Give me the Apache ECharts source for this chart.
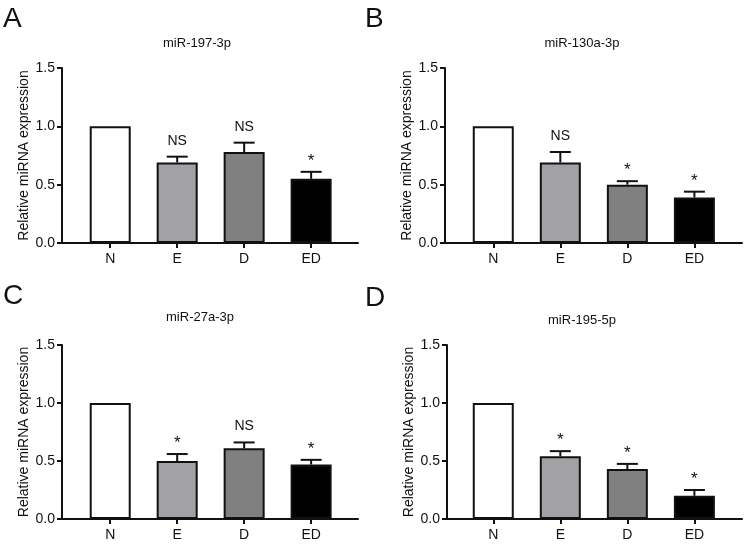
<!DOCTYPE html>
<html><head><meta charset="utf-8">
<script src="https://cdn.jsdelivr.net/npm/echarts@6/dist/echarts.min.js"></script>
<style>html,body{margin:0;padding:0;background:#fff}#c{width:750px;height:547px}</style>
</head><body><div id="c"></div>
<script>
const categories = ['N', 'E', 'D', 'ED'];
const panelLetters = ['A', 'B', 'C', 'D'];
const panelTitles = ['miR-197-3p', 'miR-130a-3p', 'miR-27a-3p', 'miR-195-5p'];
const yTicks = [0, 0.5, 1.0, 1.5];

const meanA = [1.0, 0.69, 0.78, 0.55];
const errA  = [0, 0.05, 0.08, 0.06];
const sigA  = ['', 'NS', 'NS', '*'];

const meanB = [1.0, 0.69, 0.50, 0.39];
const errB  = [0, 0.09, 0.03, 0.05];
const sigB  = ['', 'NS', '*', '*'];

const meanC = [1.0, 0.50, 0.61, 0.47];
const errC  = [0, 0.06, 0.05, 0.04];
const sigC  = ['', '*', 'NS', '*'];

const meanD = [1.0, 0.54, 0.43, 0.20];
const errD  = [0, 0.045, 0.045, 0.05];
const sigD  = ['', '*', '*', '*'];

const panels = [
  {mean: meanA, err: errA, sig: sigA},
  {mean: meanB, err: errB, sig: sigB},
  {mean: meanC, err: errC, sig: sigC},
  {mean: meanD, err: errD, sig: sigD}
];

const barColors = ['#ffffff', '#a2a2a6', '#808080', '#000000'];
const FONT = 'Liberation Sans, Arial, sans-serif';
const INK = '#111111';

const layout = [
  {left: 62,  top: 68,  width: 296, height: 175, min: -0.72, max: 3.70, tx: 197, ty: 43, lx: 3,   ly: 5},
  {left: 445, top: 68,  width: 297, height: 175, min: -0.72, max: 3.71, tx: 582, ty: 43, lx: 365, ly: 5},
  {left: 62,  top: 345, width: 296, height: 174, min: -0.72, max: 3.70, tx: 200, ty: 317, lx: 3,  ly: 282},
  {left: 447, top: 345, width: 295, height: 174, min: -0.69, max: 3.71, tx: 582, ty: 320, lx: 365, ly: 284}
];

const grid = [], xAxis = [], yAxis = [], series = [], graphics = [];
layout.forEach((L, i) => {
  const P = panels[i];
  grid.push({left: L.left, top: L.top, width: L.width, height: L.height});
  xAxis.push({
    type: 'value', gridIndex: i, min: L.min, max: L.max,
    splitLine: {show: false},
    axisLine: {show: true, onZero: false, lineStyle: {color: INK, width: 2}},
    axisTick: {show: true, length: 5, lineStyle: {color: INK, width: 2}, customValues: [0, 1, 2, 3]},
    axisLabel: {customValues: [0, 1, 2, 3], formatter: v => categories[Math.round(v)], color: INK,
      fontSize: 14, fontFamily: FONT, margin: 9}
  });
  yAxis.push({
    type: 'value', gridIndex: i, min: 0, max: 1.5, interval: 0.5,
    name: 'Relative miRNA expression', nameLocation: 'middle', nameGap: 28, nameRotate: 90,
    nameTextStyle: {color: INK, fontSize: 14, fontFamily: FONT},
    splitLine: {show: false},
    axisLine: {show: true, onZero: false, lineStyle: {color: INK, width: 2}},
    axisTick: {show: true, length: 5, lineStyle: {color: INK, width: 2}, customValues: yTicks},
    axisLabel: {customValues: yTicks, formatter: v => v.toFixed(1), color: INK, fontSize: 14, fontFamily: FONT, margin: 7}
  });
  series.push({
    type: 'bar', xAxisIndex: i, yAxisIndex: i, barWidth: 41,
    data: P.mean.map((m, k) => ({value: [k, m], itemStyle: {color: barColors[k], borderColor: INK, borderWidth: 2}})),
    animation: false, z: 2
  });
  series.push({
    type: 'custom', xAxisIndex: i, yAxisIndex: i, z: 3, animation: false,
    data: P.mean.map((m, k) => [k, m, P.err[k]]),
    renderItem: function (params, api) {
      const k = api.value(0), m = api.value(1), e = api.value(2);
      const s = P.sig[params.dataIndex];
      const base = api.coord([k, m]);
      const top = api.coord([k, m + e]);
      const children = [];
      if (e > 0) {
        children.push({type: 'line', shape: {x1: base[0], y1: base[1], x2: top[0], y2: top[1]},
          style: {stroke: INK, lineWidth: 2}});
        children.push({type: 'line', shape: {x1: top[0] - 10.5, y1: top[1], x2: top[0] + 10.5, y2: top[1]},
          style: {stroke: INK, lineWidth: 2}});
      }
      if (s) {
        const star = s === '*';
        children.push({type: 'text', style: {text: s, x: top[0], y: top[1] - (star ? 2 : 9),
          align: 'center', verticalAlign: 'bottom', font: (star ? '17px ' : '14px ') + FONT, fill: INK}});
      }
      return {type: 'group', children: children};
    }
  });
  graphics.push({type: 'text', left: L.lx, top: L.ly, style: {text: panelLetters[i], font: '28px ' + FONT, fill: INK}});
  graphics.push({type: 'text', x: L.tx, y: L.ty, style: {text: panelTitles[i], font: '13px ' + FONT, fill: INK,
    align: 'center', verticalAlign: 'middle'}});
});

const chart = echarts.init(document.getElementById('c'));
chart.setOption({animation: false, backgroundColor: '#fff', grid, xAxis, yAxis, series, graphic: graphics});
</script></body></html>
